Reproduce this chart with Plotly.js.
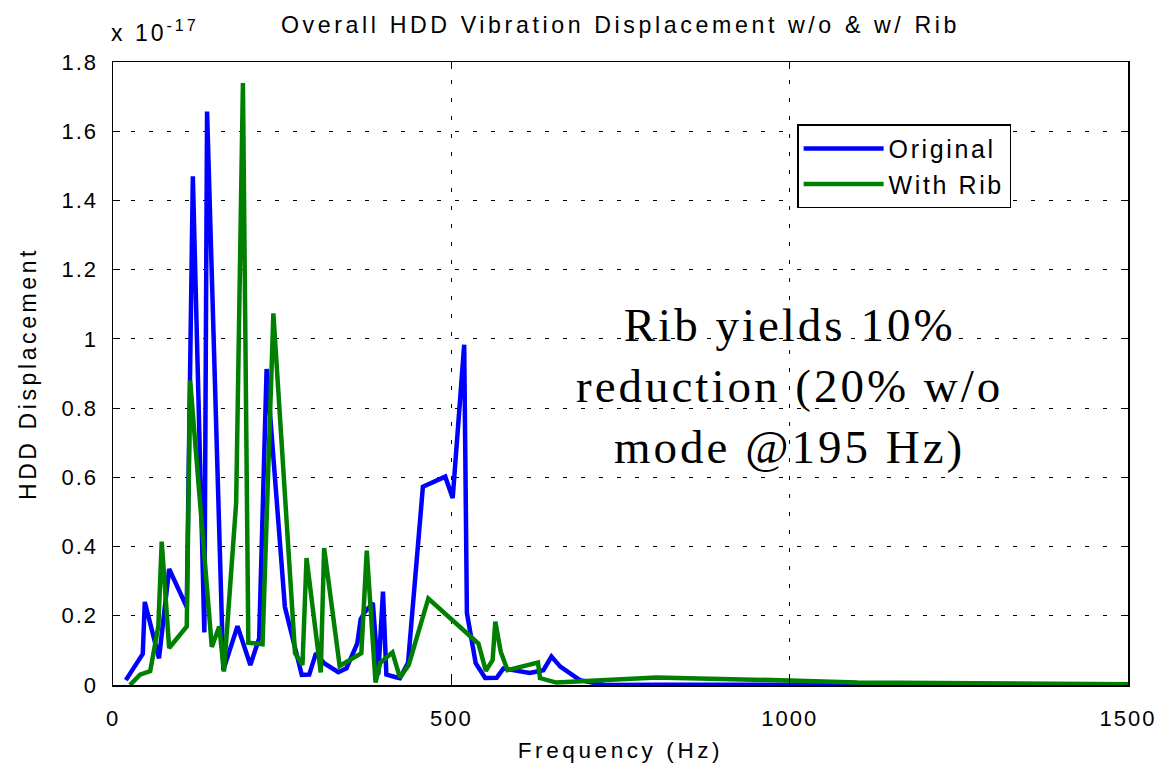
<!DOCTYPE html>
<html>
<head>
<meta charset="utf-8">
<script src="https://cdn.plot.ly/plotly-3.0.1.min.js"></script>
<style>
  html, body { margin: 0; padding: 0; background: #fff; }
  #chart { width: 1162px; height: 768px; }
  .gtitle { letter-spacing: 3.6px; }
  .xtitle, .ytitle { letter-spacing: 3.6px; }
  .legendtext { letter-spacing: 2.6px; }
  .xtick text, .ytick text { letter-spacing: 2px; }
  .annotation-text { letter-spacing: 3px; }
</style>
</head>
<body>
<div id="chart"></div>
<script>
// Frequency (Hz) and displacement (in units of 1e-17)
const freqOriginal = [19, 44, 47, 68, 83, 109, 118, 135, 139, 163, 184, 203, 216, 227, 254, 279, 290, 300, 312, 333, 345, 361, 366, 372, 384, 392, 399, 404, 417, 424, 436, 458, 491, 502, 519, 523, 536, 550, 567, 577, 616, 636, 648, 661, 690, 727, 813, 1000, 1100, 1500];
const dispOriginal = [0.014, 0.09, 0.24, 0.077, 0.335, 0.225, 1.47, 0.152, 1.657, 0.043, 0.17, 0.058, 0.135, 0.913, 0.226, 0.029, 0.03, 0.092, 0.063, 0.037, 0.048, 0.12, 0.19, 0.21, 0.237, 0.03, 0.27, 0.03, 0.023, 0.02, 0.064, 0.573, 0.602, 0.54, 0.983, 0.208, 0.063, 0.02, 0.021, 0.048, 0.035, 0.043, 0.082, 0.053, 0.014, 0.0, 0.001, 0.0, 0.0, 0.0];

const freqRib = [25, 40, 55, 67, 72, 83, 109, 114, 146, 157, 164, 182, 192, 200, 221, 237, 269, 280, 286, 307, 312, 335, 367, 375, 388, 395, 413, 424, 437, 466, 540, 551, 561, 565, 573, 583, 628, 631, 655, 803, 1000, 1100, 1500];
const dispRib = [0.0, 0.03, 0.04, 0.17, 0.414, 0.107, 0.169, 0.88, 0.11, 0.169, 0.039, 0.526, 1.739, 0.122, 0.118, 1.074, 0.092, 0.058, 0.367, 0.036, 0.396, 0.055, 0.092, 0.388, 0.007, 0.064, 0.094, 0.021, 0.058, 0.25, 0.12, 0.041, 0.072, 0.183, 0.096, 0.043, 0.065, 0.02, 0.007, 0.022, 0.013, 0.007, 0.002];

const seriesNames = ['Original', 'With Rib'];
const xTickVals = [0, 500, 1000, 1500];
const yTickVals = [0, 0.2, 0.4, 0.6, 0.8, 1, 1.2, 1.4, 1.6, 1.8];
const yTickText = ['0', '0.2', '0.4', '0.6', '0.8', '1', '1.2', '1.4', '1.6', '1.8'];

const sans = 'Liberation Sans, Arial, Helvetica, sans-serif';
const serif = 'Liberation Serif, Times New Roman, serif';

const traces = [
  { x: freqOriginal, y: dispOriginal, name: seriesNames[0], legendgroup: 'a', type: 'scatter', mode: 'lines',
    line: { color: '#0000FF', width: 4.5, shape: 'linear' }, hoverinfo: 'x+y' },
  { x: freqRib, y: dispRib, name: seriesNames[1], legendgroup: 'b', type: 'scatter', mode: 'lines',
    line: { color: '#008000', width: 4.5, shape: 'linear' }, hoverinfo: 'x+y' }
];

const gridStyle = { showgrid: true, gridcolor: '#000', gridwidth: 1, griddash: '4px,14px' };

const layout = {
  width: 1162, height: 768,
  paper_bgcolor: '#fff', plot_bgcolor: '#fff',
  margin: { l: 113, r: 34, t: 62, b: 83 },
  font: { family: sans, size: 22, color: '#000' },
  title: { text: 'Overall HDD Vibration Displacement w/o & w/ Rib', x: 0.5, xref: 'paper', xanchor: 'center',
           y: 1, yref: 'container', yanchor: 'top', pad: { t: 17 }, font: { family: sans, size: 23.2, color: '#000' } },
  xaxis: Object.assign({
    range: [0, 1500], tickmode: 'array', tickvals: xTickVals, ticks: 'inside', ticklen: 7, tickcolor: '#000',
    showline: true, linecolor: '#000', linewidth: 1.5, mirror: 'ticks', zeroline: false,
    tickfont: { family: sans, size: 22 }, ticklabelstandoff: 13,
    title: { text: 'Frequency (Hz)', font: { family: sans, size: 22.5 }, standoff: 12 }
  }, gridStyle),
  yaxis: Object.assign({
    range: [0, 1.8], tickmode: 'array', tickvals: yTickVals, ticktext: yTickText, ticks: 'inside', ticklen: 7, tickcolor: '#000',
    showline: true, linecolor: '#000', linewidth: 1.5, mirror: 'ticks', zeroline: false,
    tickfont: { family: sans, size: 22 }, ticklabelstandoff: 9,
    title: { text: 'HDD Displacement', font: { family: sans, size: 23 }, standoff: 18 }
  }, gridStyle),
  legend: {
    x: 0.674, y: 0.9, xanchor: 'left', yanchor: 'top', xref: 'paper', yref: 'paper',
    bgcolor: '#fff', bordercolor: '#000', borderwidth: 1.5,
    font: { family: sans, size: 25, color: '#000' }, tracegroupgap: 14, itemwidth: 80,
    traceorder: 'normal'
  },
  showlegend: true,
  annotations: [
    { text: 'x 10<sup>-17</sup>', xref: 'paper', yref: 'paper', x: 0, y: 1, xanchor: 'left', yanchor: 'bottom',
      yshift: 14, xshift: -4, showarrow: false, font: { family: sans, size: 23, color: '#000' } },
    { text: 'Rib yields 10%<br>reduction (20% w/o<br>mode @195 Hz)', xref: 'x', yref: 'y', x: 1000, y: 0.865,
      xanchor: 'center', yanchor: 'middle', showarrow: false, align: 'center',
      font: { family: serif, size: 47, color: '#000' } }
  ]
};

Plotly.newPlot('chart', traces, layout, { displayModeBar: false, staticPlot: true });
</script>
</body>
</html>
